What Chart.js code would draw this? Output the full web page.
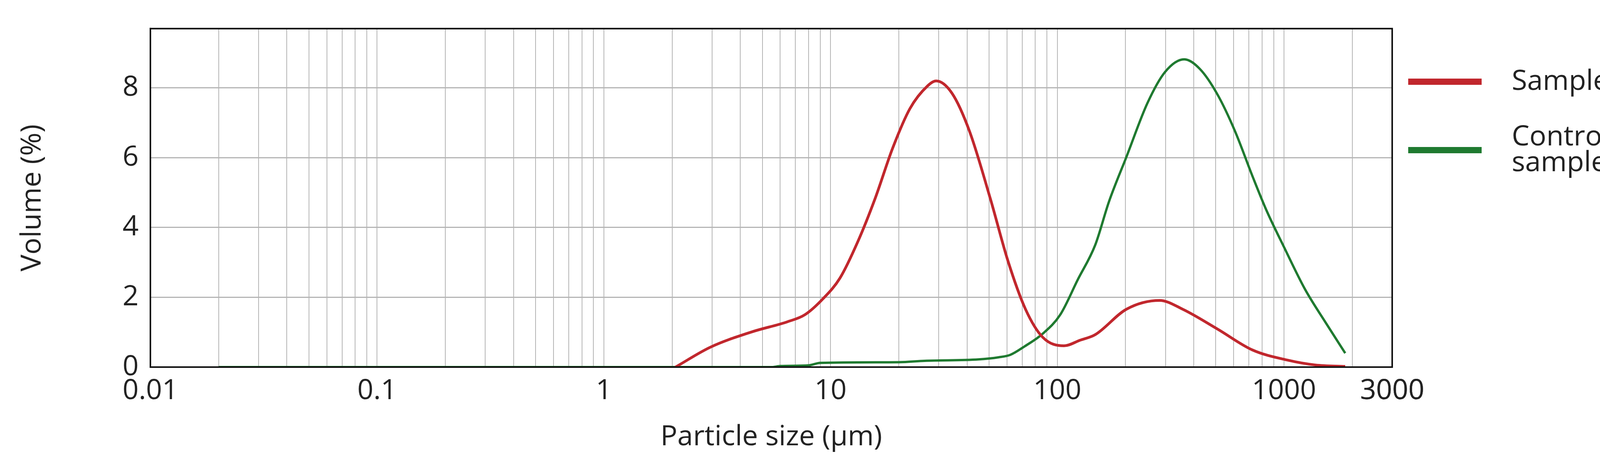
<!DOCTYPE html>
<html><head><meta charset="utf-8">
<script src="https://cdn.jsdelivr.net/npm/chart.js@4/dist/chart.umd.min.js"></script>
<style>html,body{margin:0;padding:0;background:#fff;overflow:hidden}canvas{display:block}</style>
</head><body><canvas id="c" width="4218" height="1192" style="width:4218px;height:1192px"></canvas>
<script>
const seriesNames = ["Sample 7", "Control\nsample"];
const sampleX = [2.07,2.95,4.5,6.46,7.7,9.2,11,13.2,15.7,18.8,22.4,26.8,29.2,34.3,41,50.7,60.6,72.4,86.4,107,126,147,202,283,357,509,726,1036,1377,1862];
const sampleY = [0,0.57,1.01,1.3,1.5,1.94,2.55,3.6,4.82,6.28,7.41,8.06,8.2,7.85,6.76,4.82,3.04,1.66,0.85,0.61,0.77,0.93,1.66,1.91,1.66,1.09,0.49,0.2,0.06,0.02];
const controlX = [0.02,5.5,6,8,9,20,26,45,55,62,72,86,103,123,147,169,202,250,299,363,426,509,608,726,837,1000,1238,1532,1862];
const controlY = [0,0,0.03,0.05,0.12,0.14,0.18,0.22,0.28,0.35,0.6,0.95,1.5,2.5,3.5,4.74,6.03,7.57,8.46,8.82,8.54,7.81,6.76,5.47,4.49,3.44,2.23,1.26,0.4];
const xLabelTicks = [0.01,0.1,1,10,100,1000,3000];
const yTicks = [0,2,4,6,8];
const colors = ["#c1272d","#1f7a30"];
const FONT = "'Open Sans', sans-serif";

const xTicksAll = [];
for (let e=-2;e<=3;e++) for (let m=1;m<=9;m++){ const v=m*Math.pow(10,e); if(v<=3000) xTicksAll.push(+v.toPrecision(3)); }
xTicksAll.push(3000);

const target = {left:385, top:37, right:3564, bottom:939};

const legendPlugin = {
  id:'legendBox',
  afterDraw(chart){
    const ctx=chart.ctx, a=chart.chartArea;
    ctx.save();
    ctx.strokeStyle='#111'; ctx.lineWidth=4;
    ctx.strokeRect(a.left,a.top,a.right-a.left,a.bottom-a.top);
    const rows=[209,384];
    ctx.font="72px "+FONT; ctx.fillStyle='#222'; ctx.textBaseline='middle';
    seriesNames.forEach((n,i)=>{
      ctx.strokeStyle=colors[i]; ctx.lineWidth=16;
      ctx.beginPath(); ctx.moveTo(3605,rows[i]); ctx.lineTo(3793,rows[i]); ctx.stroke();
      const lines=n.split("\n");
      lines.forEach((t,j)=>{ ctx.fillText(t,3870,rows[i]+(j-(lines.length-1)/2)*66); });
    });
    ctx.restore();
  }
};

const chart = new Chart(document.getElementById('c'),{
  type:'line',
  data:{datasets:[
    {label:"Sample 7",data:sampleX.map((x,i)=>({x,y:sampleY[i]})),borderColor:colors[0],borderWidth:7,pointRadius:0,cubicInterpolationMode:'monotone',fill:false},
    {label:"Control sample",data:controlX.map((x,i)=>({x,y:controlY[i]})),borderColor:colors[1],borderWidth:6,pointRadius:0,cubicInterpolationMode:'monotone',fill:false}
  ]},
  options:{
    responsive:false,devicePixelRatio:1,animation:false,
    layout:{padding:{top:37,right:654,left:0,bottom:0}},
    plugins:{legend:{display:false},tooltip:{enabled:false}},
    scales:{
      x:{type:'logarithmic',min:0.01,max:3000,
        afterBuildTicks(s){s.ticks=xTicksAll.map(v=>({value:v}));},
        afterFit(s){s.height=253;},
        ticks:{autoSkip:false,maxRotation:0,padding:18,color:'#222',font:{family:FONT,size:72},
          callback(v){return xLabelTicks.includes(v)?String(v):'';}},
        grid:{color:'#b5b5b5',lineWidth:2,drawTicks:false},
        border:{color:'#111',width:4},
        title:{display:true,text:'Particle size (μm)',color:'#222',font:{family:FONT,size:72},padding:{top:20,bottom:30}}
      },
      y:{min:0,max:9.7,
        afterBuildTicks(s){s.ticks=yTicks.map(v=>({value:v}));},
        afterFit(s){s.width=385;},
        ticks:{padding:30,color:'#222',font:{family:FONT,size:72}},
        grid:{color:'#b5b5b5',lineWidth:3,drawTicks:false},
        border:{color:'#111',width:4},
        title:{display:true,text:'Volume (%)',color:'#222',font:{family:FONT,size:72},padding:{top:40,bottom:0}}
      }
    }
  },
  plugins:[legendPlugin]
});
// correct padding so the plot area lands where the reference has it
for (let k=0;k<3;k++){
  const a=chart.chartArea, p=chart.options.layout.padding;
  p.top=Math.max(0,p.top+(target.top-a.top));
  p.right=Math.max(0,p.right+(a.right-target.right));
  p.bottom=Math.max(0,p.bottom+(a.bottom-target.bottom));
  p.left=Math.max(0,p.left+(target.left-a.left));
  chart.update();
}
</script></body></html>
